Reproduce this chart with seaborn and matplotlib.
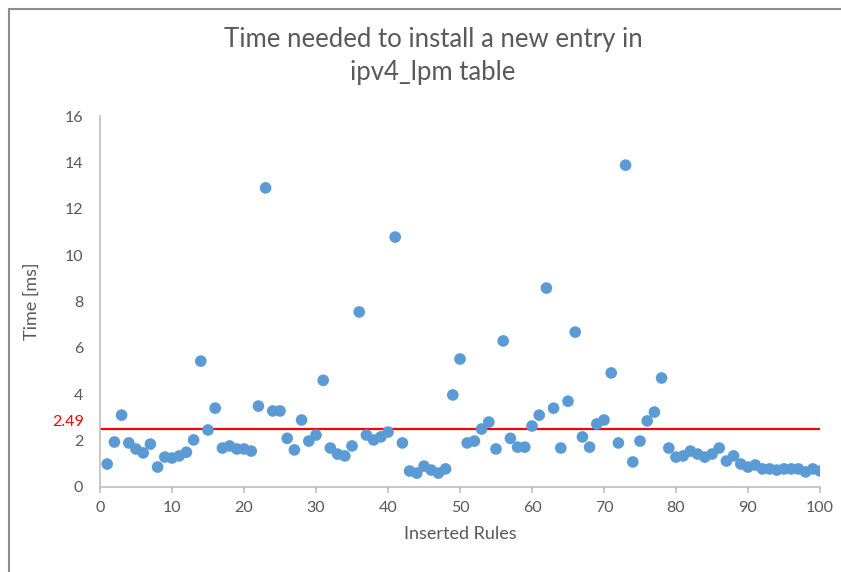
import matplotlib
matplotlib.use("Agg")
import matplotlib.pyplot as plt
from matplotlib.lines import Line2D
import seaborn as sns
import pandas as pd

# Insertion time (ms) for each of the 100 rules added to ipv4_lpm
rules = list(range(1, 101))
times_ms = [
    0.99, 1.94, 3.10, 1.90, 1.64, 1.47, 1.85, 0.86, 1.29, 1.25,
    1.34, 1.50, 2.03, 5.43, 2.46, 3.40, 1.68, 1.77, 1.64, 1.64,
    1.55, 3.49, 12.90, 3.28, 3.28, 2.10, 1.60, 2.89, 1.98, 2.24,
    4.60, 1.68, 1.42, 1.34, 1.77, 7.55, 2.24, 2.03, 2.16, 2.37,
    10.78, 1.90, 0.69, 0.60, 0.90, 0.73, 0.60, 0.78, 3.97, 5.52,
    1.90, 1.98, 2.50, 2.80, 1.64, 6.30, 2.10, 1.72, 1.72, 2.63,
    3.10, 8.58, 3.40, 1.68, 3.70, 6.68, 2.16, 1.72, 2.72, 2.89,
    4.92, 1.90, 13.88, 1.08, 1.98, 2.85, 3.23, 4.70, 1.68, 1.29,
    1.34, 1.55, 1.42, 1.29, 1.42, 1.68, 1.12, 1.34, 0.99, 0.86,
    0.95, 0.78, 0.78, 0.73, 0.78, 0.78, 0.78, 0.65, 0.78, 0.69,
]
mean_time = 2.49
x_ticks = list(range(0, 101, 10))
y_ticks = list(range(0, 17, 2))

df = pd.DataFrame({"Inserted Rules": rules, "Time [ms]": times_ms})

sns.set_theme(style="white")
plt.rcParams["font.family"] = ["Lato", "DejaVu Sans"]

text_gray = "#595959"
axis_gray = "#BFBFBF"
dot_blue = "#5B9BD5"

fig = plt.figure(figsize=(8.41, 5.72), dpi=100)
ax = fig.add_axes([100 / 841, 1 - 487 / 572, 720 / 841, 371 / 572])

sns.scatterplot(data=df, x="Inserted Rules", y="Time [ms]", ax=ax,
                color=dot_blue, s=70, edgecolor="none", zorder=3)

# Average insertion time, labelled just above the line on the left
ax.axhline(mean_time, color="#FF0000", lw=1.6, zorder=2)
ax.annotate(f"{mean_time:.2f}", xy=(-0.022, mean_time),
            xycoords=ax.get_yaxis_transform(), xytext=(0, 5),
            textcoords="offset points", color="#FF0000",
            ha="right", va="center", fontsize=11.5, annotation_clip=False)

ax.set_xlim(0, 100)
ax.set_ylim(0, 16)
ax.set_xticks(x_ticks)
ax.set_yticks(y_ticks)

for side in ("top", "right"):
    ax.spines[side].set_visible(False)
for side in ("left", "bottom"):
    ax.spines[side].set_color(axis_gray)
    ax.spines[side].set_linewidth(1.2)

ax.tick_params(axis="y", length=0, pad=12, labelsize=11.5, labelcolor=text_gray)
ax.tick_params(axis="x", bottom=True, direction="out", length=4, width=1.2,
               color=axis_gray, pad=6, labelsize=11.5, labelcolor=text_gray)

ax.set_xlabel("Inserted Rules", fontsize=13, color=text_gray, labelpad=8)
ax.set_ylabel("Time [ms]", fontsize=13, color=text_gray, labelpad=18)

fig.text(433 / 841, 1 - 56 / 572,
         "Time needed to install a new entry in\nipv4_lpm table",
         ha="center", va="center", fontsize=18.5, color=text_gray,
         linespacing=1.4)

# Chart frame edge (top and left)
frame_gray = "#8C8C8C"
fig.add_artist(Line2D([9 / 841, 1.0], [1 - 9 / 572, 1 - 9 / 572],
                      transform=fig.transFigure, color=frame_gray, lw=1.5))
fig.add_artist(Line2D([9 / 841, 9 / 841], [0.0, 1 - 9 / 572],
                      transform=fig.transFigure, color=frame_gray, lw=1.5))

fig.savefig("out.png", dpi=100, facecolor="white")
